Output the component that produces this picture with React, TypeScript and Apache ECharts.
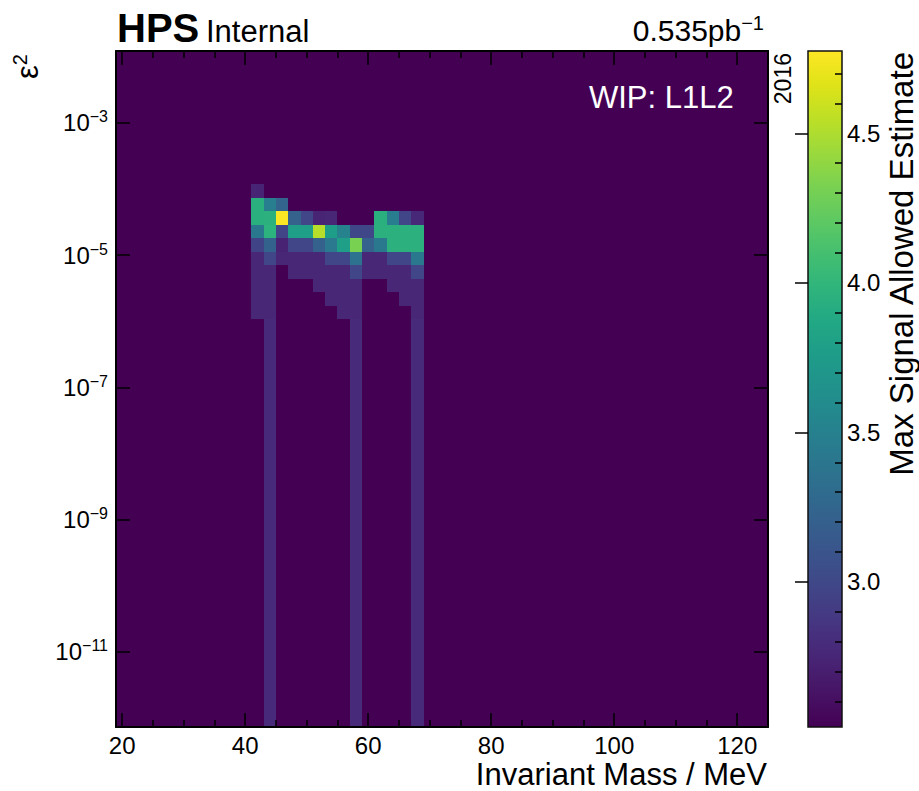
import React, { useEffect, useRef } from "react";
import * as echarts from "echarts";

// ---------- data ----------
// mass bin edges (MeV)
const massBinEdges = [41, 43, 45, 47, 49, 51, 53, 55, 57, 59, 61, 63, 65, 67, 69];
// log10(eps^2) row edges, top edge first
const logEps2RowEdges = [-3.926, -4.130, -4.335, -4.539, -4.744, -4.948, -5.152, -5.357, -5.561, -5.766, -5.970];
const N = null;
// max signal allowed estimate, rows top -> bottom, one column per mass bin
const signalRows: (number | null)[][] = [
  [2.74, N, N, N, N, N, N, N, N, N, N, N, N, N],
  [3.94, 3.47, 3.24, N, N, N, N, N, N, N, N, N, N, N],
  [3.94, 3.96, 4.77, 3.22, 2.98, 2.74, 2.76, N, N, N, 3.94, 3.47, 2.98, 2.77],
  [3.42, 3.97, 2.97, 3.78, 3.79, 4.53, 3.77, 3.52, 2.99, 2.99, 3.95, 3.95, 3.95, 3.95],
  [2.96, 3.23, 2.73, 2.98, 2.98, 3.22, 3.43, 3.79, 4.32, 3.22, 3.42, 3.95, 3.95, 3.95],
  [2.76, 2.98, 2.76, 2.76, 2.76, 2.76, 2.98, 2.98, 3.36, 2.76, 2.76, 2.98, 2.98, 3.42],
  [2.76, 2.76, N, 2.76, 2.76, 2.76, 2.76, 2.76, 2.98, 2.76, 2.76, 2.76, 2.76, 2.98],
  [2.76, 2.76, N, N, N, 2.76, 2.76, 2.76, 2.76, N, N, 2.76, 2.76, 2.76],
  [2.76, 2.76, N, N, N, N, 2.76, 2.76, 2.76, N, N, N, 2.76, 2.76],
  [2.76, 2.76, N, N, N, N, N, 2.76, 2.76, N, N, N, N, 2.76],
];
// mass bins (by lower edge) that continue down to the lowest eps^2 bins
const stripeMassLow = [43, 57, 67];
const stripeTopLogEps2 = [-5.970, -5.970, -5.970];
const stripeValue = [2.78, 2.78, 2.78];

// axis ticks
const xMajorTicks = [20, 40, 60, 80, 100, 120];
const xMinorTicks = [25, 30, 35, 45, 50, 55, 65, 70, 75, 85, 90, 95, 105, 110, 115];
const yTickExponents = [-11, -9, -7, -5, -3];
const cbMajorTicks = [3.0, 3.5, 4.0, 4.5];
const cbMinorTicks = [2.6, 2.7, 2.8, 2.9, 3.1, 3.2, 3.3, 3.4, 3.6, 3.7, 3.8, 3.9, 4.1, 4.2, 4.3, 4.4, 4.6, 4.7];
const colorbarRange = [2.515, 4.775];

// ---------- layout / style constants ----------
const MASS_BIN_WIDTH = 2;
const X_MIN = 19;
const X_MAX = 125;
const Y_MIN = -12.135;
const Y_MAX = -1.915;
const FONT = "'Liberation Sans', Arial, Helvetica, sans-serif";

const VIRIDIS = [
  "#440154", "#471365", "#482475", "#463480", "#414487", "#3b528b", "#355f8d",
  "#2f6c8e", "#2a788e", "#25848e", "#21918c", "#1e9c89", "#22a884", "#2fb47c",
  "#44bf70", "#5ec962", "#7ad151", "#9bd93c", "#bddf26", "#dfe318", "#fde725",
];

function hexToRgb(h: string) {
  const n = parseInt(h.slice(1), 16);
  return [(n >> 16) & 255, (n >> 8) & 255, n & 255];
}
const VIRIDIS_RGB = VIRIDIS.map(hexToRgb);

function viridis(v: number) {
  let t = (v - colorbarRange[0]) / (colorbarRange[1] - colorbarRange[0]);
  t = Math.max(0, Math.min(1, t));
  const f = t * (VIRIDIS_RGB.length - 1);
  const i = Math.min(Math.floor(f), VIRIDIS_RGB.length - 2);
  const u = f - i;
  const a = VIRIDIS_RGB[i];
  const b = VIRIDIS_RGB[i + 1];
  const c = a.map((x, k) => Math.round(x + (b[k] - x) * u));
  return `rgb(${c[0]},${c[1]},${c[2]})`;
}

function pixelRect(p0: number[], p1: number[]) {
  const x0 = Math.round(p0[0]), x1 = Math.round(p1[0]);
  const y0 = Math.round(p0[1]), y1 = Math.round(p1[1]);
  return { x: x0, y: y0, width: x1 - x0, height: y1 - y0 };
}

export default function App() {
  const ref = useRef<HTMLDivElement>(null);

  useEffect(() => {
    if (!ref.current) return;
    const chart = echarts.init(ref.current, null, { renderer: "svg" });

    // [massLow, massHigh, logTop, logBottom, value]
    const cells: number[][] = [];
    signalRows.forEach((row, r) => {
      row.forEach((v, c) => {
        if (v !== null) {
          cells.push([massBinEdges[c], massBinEdges[c + 1], logEps2RowEdges[r], logEps2RowEdges[r + 1], v]);
        }
      });
    });
    const stripes = stripeMassLow.map((m, i) => [m, m + MASS_BIN_WIDTH, stripeTopLogEps2[i], Y_MIN - 1, stripeValue[i]]);

    const tickStyle = { color: "#000", width: 1.5 };
    const borderLine = { show: true, lineStyle: { color: "#000", width: 2 } };

    const cellRenderer = (_p: any, api: any) => {
      const p0 = api.coord([api.value(0), api.value(2)]);
      const p1 = api.coord([api.value(1), api.value(3)]);
      return {
        type: "rect",
        shape: pixelRect(p0, p1),
        style: { fill: viridis(api.value(4)) },
      };
    };

    const option: any = {
      animation: false,
      backgroundColor: "#fff",
      grid: [
        {
          left: 116, top: 51, width: 652, height: 676,
          show: true, backgroundColor: VIRIDIS[0], borderWidth: 0,
        },
        { left: 808, top: 51, width: 34, height: 676, show: false },
      ],
      xAxis: [
        {
          gridIndex: 0, type: "value", position: "bottom", min: X_MIN, max: X_MAX, z: 10,
          axisLine: borderLine,
          axisTick: { show: true, inside: true, length: 14, lineStyle: tickStyle, customValues: xMajorTicks },
          axisLabel: {
            show: true, customValues: xMajorTicks, fontSize: 24, lineHeight: 24,
            color: "#000", fontFamily: FONT, margin: 6,
          },
          splitLine: { show: false },
        },
        {
          gridIndex: 0, type: "value", position: "bottom", offset: 0, min: X_MIN, max: X_MAX, z: 10,
          axisLine: { show: false },
          axisTick: { show: true, inside: true, length: 7, lineStyle: tickStyle, customValues: xMinorTicks },
          axisLabel: { show: false },
          splitLine: { show: false },
        },
        {
          gridIndex: 0, type: "value", position: "top", min: X_MIN, max: X_MAX, z: 10,
          axisLine: borderLine,
          axisTick: { show: true, inside: true, length: 14, lineStyle: tickStyle, customValues: xMajorTicks },
          axisLabel: { show: false },
          splitLine: { show: false },
        },
        {
          gridIndex: 0, type: "value", position: "top", offset: 0, min: X_MIN, max: X_MAX, z: 10,
          axisLine: { show: false },
          axisTick: { show: true, inside: true, length: 7, lineStyle: tickStyle, customValues: xMinorTicks },
          axisLabel: { show: false },
          splitLine: { show: false },
        },
        {
          gridIndex: 1, type: "value", min: 0, max: 1, show: false,
        },
      ],
      yAxis: [
        {
          gridIndex: 0, type: "value", position: "left", min: Y_MIN, max: Y_MAX, z: 10,
          axisLine: borderLine,
          axisTick: { show: true, inside: true, length: 14, lineStyle: tickStyle, customValues: yTickExponents },
          axisLabel: {
            show: true, customValues: yTickExponents, margin: 8, color: "#000", fontFamily: FONT,
            formatter: (v: number) => `{b|10}{s|\u2212${Math.abs(Math.round(v))}}`,
            rich: {
              b: { fontSize: 24, lineHeight: 28, fontFamily: FONT, color: "#000" },
              s: { fontSize: 16, lineHeight: 16, verticalAlign: "top", fontFamily: FONT, color: "#000" },
            },
          },
          splitLine: { show: false },
        },
        {
          gridIndex: 0, type: "value", position: "right", min: Y_MIN, max: Y_MAX, z: 10,
          axisLine: borderLine,
          axisTick: { show: true, inside: true, length: 14, lineStyle: tickStyle, customValues: yTickExponents },
          axisLabel: { show: false },
          splitLine: { show: false },
        },
        {
          gridIndex: 1, type: "value", position: "right", min: colorbarRange[0], max: colorbarRange[1], z: 10,
          axisLine: { show: false },
          axisTick: { show: true, inside: true, length: 13, lineStyle: tickStyle, customValues: cbMajorTicks },
          axisLabel: {
            show: true, customValues: cbMajorTicks, margin: 5, fontSize: 24, color: "#000", fontFamily: FONT,
            formatter: (v: number) => v.toFixed(1),
          },
          splitLine: { show: false },
        },
        {
          gridIndex: 1, type: "value", position: "right", offset: 0, min: colorbarRange[0], max: colorbarRange[1], z: 10,
          axisLine: { show: false },
          axisTick: { show: true, inside: true, length: 7, lineStyle: tickStyle, customValues: cbMinorTicks },
          axisLabel: { show: false },
          splitLine: { show: false },
        },
      ],
      series: [
        {
          type: "custom",
          xAxisIndex: 0, yAxisIndex: 0, clip: true, z: 2,
          encode: { x: [0, 1], y: [2, 3] },
          data: cells,
          renderItem: cellRenderer,
        },
        {
          type: "custom",
          xAxisIndex: 0, yAxisIndex: 0, clip: true, z: 2,
          encode: { x: [0, 1], y: [2, 3] },
          data: stripes,
          renderItem: cellRenderer,
        },
        {
          type: "custom",
          xAxisIndex: 4, yAxisIndex: 2, z: 2,
          encode: { x: 0, y: 2 },
          data: [[0, 1, colorbarRange[0], colorbarRange[1]]],
          renderItem: (_p: any, api: any) => {
            const p0 = api.coord([api.value(0), api.value(3)]);
            const p1 = api.coord([api.value(1), api.value(2)]);
            return {
              type: "rect",
              shape: { x: p0[0], y: p0[1], width: p1[0] - p0[0], height: p1[1] - p0[1] },
              style: {
                fill: new echarts.graphic.LinearGradient(
                  0, 1, 0, 0,
                  VIRIDIS.map((c, i) => ({ offset: i / (VIRIDIS.length - 1), color: c }))
                ),
                stroke: "#111",
                lineWidth: 1.5,
              },
            };
          },
        },
      ],
      graphic: [
        {
          type: "text", x: 117, y: 28, z: 20,
          style: { text: "HPS", font: `bold 40px ${FONT}`, fill: "#000", align: "left", verticalAlign: "middle" },
        },
        {
          type: "text", x: 206, y: 31, z: 20,
          style: { text: "Internal", font: `31px ${FONT}`, fill: "#000", align: "left", verticalAlign: "middle" },
        },
        {
          type: "text", x: 764, y: 30, z: 20,
          style: {
            text: "{b|0.535pb}{s|\u22121}",
            align: "right", verticalAlign: "middle",
            rich: {
              b: { fontSize: 30, lineHeight: 34, fontFamily: FONT, fill: "#000", color: "#000" },
              s: { fontSize: 20, lineHeight: 20, verticalAlign: "top", fontFamily: FONT, fill: "#000", color: "#000" },
            },
          },
        },
        {
          type: "text", x: 589, y: 97, z: 20,
          style: { text: "WIP: L1L2", font: `31px ${FONT}`, fill: "#fff", align: "left", verticalAlign: "middle" },
        },
        {
          type: "text", x: 783, y: 53, z: 20, rotation: Math.PI / 2,
          style: { text: "2016", font: `23px ${FONT}`, fill: "#000", align: "right", verticalAlign: "middle" },
        },
        {
          type: "text", x: 27, y: 54, z: 20, rotation: Math.PI / 2,
          style: {
            text: "{b|\u03b5}{s|2}",
            align: "right", verticalAlign: "middle",
            rich: {
              b: { fontSize: 31, lineHeight: 34, fontFamily: FONT, fill: "#000", color: "#000" },
              s: { fontSize: 20, lineHeight: 20, verticalAlign: "top", fontFamily: FONT, fill: "#000", color: "#000" },
            },
          },
        },
        {
          type: "text", x: 901, y: 52, z: 20, rotation: Math.PI / 2,
          style: { text: "Max Signal Allowed Estimate", font: `33px ${FONT}`, fill: "#000", align: "right", verticalAlign: "middle" },
        },
        {
          type: "text", x: 767, y: 774, z: 20,
          style: {
            text: "Invariant Mass / MeV", font: `31px ${FONT}`, lineHeight: 31,
            fill: "#000", align: "right", verticalAlign: "middle",
          },
        },
      ],
    };

    chart.setOption(option);
    return () => chart.dispose();
  }, []);

  return (
    <div
      ref={ref}
      style={{ position: "absolute", left: 0, top: 0, width: 919, height: 791, background: "#fff" }}
    />
  );
}
